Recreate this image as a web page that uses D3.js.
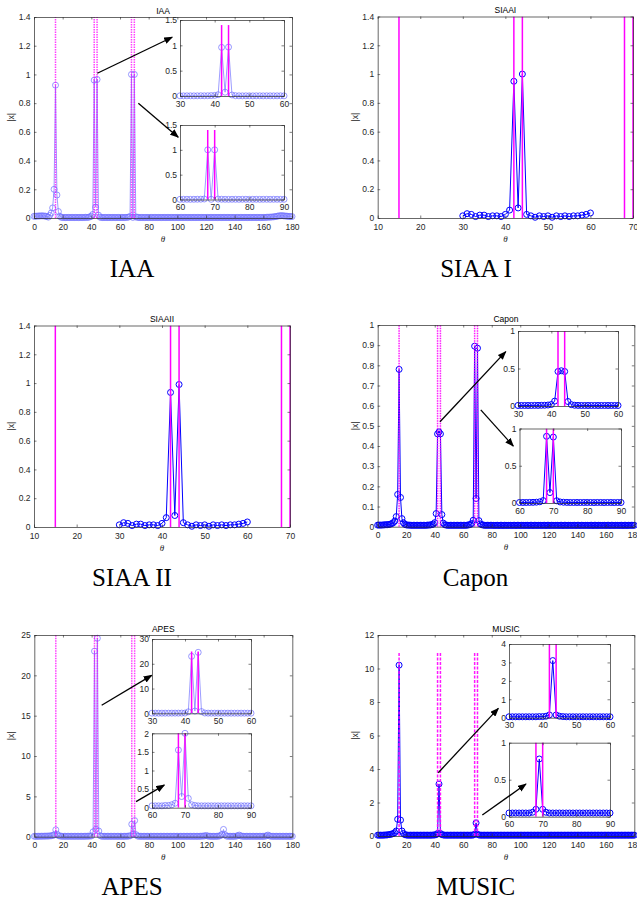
<!DOCTYPE html>
<html>
<head>
<meta charset="utf-8">
<script src="https://cdn.jsdelivr.net/npm/d3@7"></script>
<style>
body { margin: 0; background: #fff; }
</style>
</head>
<body>
<div id="chart"></div>
<script>
// true directions (magenta stems)
const trueAngles = [15, 42, 44, 68, 70];
// search grids
const fullGrid = d3.range(0, 181);
const siaaGrid = d3.range(30, 61);

// estimated |x| on the full 0..180 grid
const iaaVals = [
	0.012,0.012,0.013,0.014,0.014,0.015,0.015,0.014,0.013,0.010,
	0.006,0.018,0.035,0.070,0.200,0.925,0.160,0.045,0.012,0.005,
	0.004,0.004,0.003,0.004,0.004,0.003,0.004,0.004,0.003,0.004,
	0.004,0.003,0.004,0.004,0.003,0.004,0.005,0.004,0.005,0.008,
	0.012,0.025,0.960,0.075,0.965,0.020,0.006,0.004,0.003,0.004,
	0.004,0.003,0.004,0.004,0.003,0.004,0.004,0.003,0.004,0.004,
	0.003,0.004,0.004,0.003,0.004,0.005,0.006,0.010,1.000,0.004,
	1.000,0.008,0.005,0.004,0.003,0.004,0.004,0.003,0.004,0.004,
	0.003,0.004,0.004,0.003,0.004,0.004,0.003,0.004,0.004,0.003,
	0.004,0.004,0.003,0.004,0.004,0.003,0.004,0.004,0.003,0.004,
	0.004,0.003,0.004,0.004,0.003,0.004,0.004,0.003,0.004,0.004,
	0.003,0.004,0.004,0.003,0.004,0.004,0.003,0.004,0.004,0.003,
	0.004,0.004,0.003,0.004,0.004,0.003,0.004,0.004,0.003,0.004,
	0.004,0.003,0.004,0.004,0.003,0.004,0.004,0.003,0.004,0.004,
	0.003,0.004,0.004,0.003,0.004,0.004,0.003,0.004,0.004,0.003,
	0.004,0.004,0.003,0.004,0.004,0.003,0.004,0.004,0.003,0.004,
	0.004,0.004,0.005,0.005,0.006,0.006,0.007,0.008,0.009,0.011,
	0.013,0.015,0.016,0.016,0.015,0.014,0.013,0.012,0.011,0.010,
	0.010
];
const caponVals = [
	0.008,0.008,0.008,0.008,0.009,0.009,0.010,0.010,0.011,0.013,
	0.016,0.020,0.028,0.050,0.160,0.780,0.145,0.040,0.020,0.012,
	0.009,0.008,0.008,0.007,0.007,0.007,0.007,0.007,0.007,0.007,
	0.007,0.007,0.007,0.007,0.007,0.008,0.008,0.009,0.010,0.013,
	0.020,0.065,0.460,0.470,0.460,0.060,0.018,0.010,0.008,0.007,
	0.007,0.007,0.007,0.007,0.007,0.007,0.007,0.007,0.007,0.007,
	0.007,0.007,0.007,0.008,0.009,0.011,0.016,0.032,0.895,0.140,
	0.885,0.030,0.014,0.010,0.008,0.007,0.007,0.007,0.007,0.007,
	0.007,0.007,0.006,0.007,0.007,0.006,0.007,0.007,0.006,0.007,
	0.007,0.006,0.007,0.007,0.006,0.007,0.007,0.006,0.007,0.007,
	0.006,0.007,0.007,0.006,0.007,0.007,0.006,0.007,0.007,0.006,
	0.007,0.007,0.006,0.007,0.007,0.006,0.007,0.007,0.006,0.007,
	0.007,0.006,0.007,0.007,0.006,0.007,0.007,0.006,0.007,0.007,
	0.006,0.007,0.007,0.006,0.007,0.007,0.006,0.007,0.007,0.006,
	0.007,0.007,0.006,0.007,0.007,0.006,0.007,0.007,0.006,0.007,
	0.007,0.006,0.007,0.007,0.006,0.007,0.007,0.006,0.007,0.007,
	0.006,0.007,0.007,0.006,0.007,0.007,0.006,0.007,0.007,0.006,
	0.007,0.007,0.006,0.007,0.007,0.006,0.007,0.007,0.007,0.007,
	0.007
];
const apesVals = [
	0.05,0.05,0.05,0.05,0.06,0.06,0.06,0.07,0.07,0.08,
	0.08,0.10,0.12,0.15,0.25,0.85,0.30,0.12,0.08,0.06,
	0.05,0.05,0.05,0.05,0.05,0.05,0.05,0.05,0.05,0.05,
	0.05,0.05,0.05,0.05,0.05,0.05,0.06,0.06,0.07,0.08,
	0.10,0.60,23.00,0.90,24.60,0.70,0.12,0.06,0.05,0.05,
	0.05,0.05,0.05,0.05,0.05,0.05,0.05,0.05,0.05,0.05,
	0.05,0.05,0.05,0.05,0.06,0.06,0.08,0.12,1.55,0.30,
	2.00,0.25,0.08,0.06,0.05,0.05,0.05,0.05,0.05,0.05,
	0.05,0.05,0.05,0.05,0.05,0.05,0.05,0.05,0.05,0.05,
	0.05,0.05,0.05,0.05,0.05,0.05,0.05,0.05,0.05,0.05,
	0.05,0.05,0.05,0.05,0.05,0.05,0.05,0.05,0.05,0.05,
	0.05,0.05,0.05,0.05,0.05,0.05,0.06,0.07,0.08,0.10,
	0.15,0.08,0.06,0.05,0.05,0.05,0.05,0.05,0.06,0.08,
	0.15,0.30,0.90,0.25,0.08,0.06,0.05,0.05,0.05,0.05,
	0.05,0.08,0.12,0.20,0.10,0.06,0.05,0.05,0.05,0.05,
	0.05,0.05,0.05,0.05,0.05,0.05,0.05,0.05,0.05,0.05,
	0.05,0.06,0.12,0.20,0.10,0.06,0.05,0.05,0.05,0.05,
	0.05,0.05,0.05,0.05,0.05,0.05,0.05,0.05,0.05,0.05,
	0.05
];
const musicVals = [
	0.05,0.05,0.05,0.05,0.05,0.06,0.06,0.07,0.08,0.10,
	0.12,0.15,0.20,0.30,1.00,10.20,0.95,0.30,0.15,0.08,
	0.06,0.05,0.05,0.05,0.05,0.05,0.05,0.05,0.05,0.05,
	0.05,0.05,0.05,0.05,0.05,0.05,0.05,0.05,0.05,0.06,
	0.06,0.08,0.15,3.10,0.15,0.08,0.06,0.05,0.05,0.05,
	0.05,0.05,0.05,0.05,0.05,0.05,0.05,0.05,0.05,0.05,
	0.05,0.05,0.05,0.05,0.05,0.05,0.05,0.06,0.10,0.78,
	0.10,0.06,0.05,0.05,0.05,0.05,0.05,0.05,0.05,0.05,
	0.05,0.05,0.05,0.05,0.05,0.05,0.05,0.05,0.05,0.05,
	0.05,0.05,0.05,0.05,0.05,0.05,0.05,0.05,0.05,0.05,
	0.05,0.05,0.05,0.05,0.05,0.05,0.05,0.05,0.05,0.05,
	0.05,0.05,0.05,0.05,0.05,0.05,0.05,0.05,0.05,0.05,
	0.05,0.05,0.05,0.05,0.05,0.05,0.05,0.05,0.05,0.05,
	0.05,0.05,0.05,0.05,0.05,0.05,0.05,0.05,0.05,0.05,
	0.05,0.05,0.05,0.05,0.05,0.05,0.05,0.05,0.05,0.05,
	0.05,0.05,0.05,0.05,0.05,0.05,0.05,0.05,0.05,0.05,
	0.05,0.05,0.05,0.05,0.05,0.05,0.05,0.05,0.05,0.05,
	0.05,0.05,0.05,0.05,0.05,0.05,0.05,0.05,0.05,0.05,
	0.05
];
// SIAA estimates on the 30..60 grid
const siaa1Vals = [0.015,0.030,0.025,0.010,0.020,0.020,0.010,0.015,0.015,0.010,
	0.025,0.055,0.950,0.070,1.000,0.025,0.015,0.005,0.015,0.010,
	0.015,0.005,0.015,0.010,0.015,0.010,0.015,0.015,0.020,0.025,0.035];
const siaa2Vals = [0.015,0.030,0.025,0.010,0.020,0.020,0.010,0.015,0.015,0.010,
	0.025,0.065,0.935,0.080,0.990,0.030,0.015,0.005,0.015,0.010,
	0.015,0.005,0.015,0.010,0.015,0.010,0.015,0.015,0.020,0.025,0.035];

// tick labels
const thetaTicks = [0, 20, 40, 60, 80, 100, 120, 140, 160, 180];
const thetaTicksSiaa = [10, 20, 30, 40, 50, 60, 70];
const zoomTicksA = [30, 40, 50, 60];
const zoomTicksB = [60, 70, 80, 90];
const ticksIaa = [0, 0.2, 0.4, 0.6, 0.8, 1, 1.2, 1.4];
const ticksCapon = [0, 0.1, 0.2, 0.3, 0.4, 0.5, 0.6, 0.7, 0.8, 0.9, 1];
const ticksApes = [0, 5, 10, 15, 20, 25];
const ticksMusic = [0, 2, 4, 6, 8, 10, 12];
const insetTicksIaa = [0, 0.5, 1, 1.5];
const insetTicksCapon = [0, 0.5, 1];
const insetTicksApesA = [0, 10, 20, 30];
const insetTicksApesB = [0, 0.5, 1, 1.5, 2];
const insetTicksMusicA = [0, 1, 2, 3, 4];
const insetTicksMusicB = [0, 0.5, 1];

// height of the magenta stems per method
const stemTops = { IAA: 1.4, SIAA: 1.4, Capon: 1, APES: 25, MUSIC: 11 };

const axisColor = '#262626';
const magenta = '#ff00ff';
const fmt = (d) => String(+d.toFixed(2));

const svg = d3
	.select('#chart')
	.append('svg')
	.attr('width', 637)
	.attr('height', 899)
	.style('font-family', '"Liberation Sans", Arial, sans-serif');

const defs = svg.append('defs');
defs.append('marker')
	.attr('id', 'arrow')
	.attr('markerUnits', 'userSpaceOnUse')
	.attr('markerWidth', 9)
	.attr('markerHeight', 7)
	.attr('refX', 8)
	.attr('refY', 3.5)
	.attr('orient', 'auto')
	.append('path')
	.attr('d', 'M0,0L9,3.5L0,7Z')
	.attr('fill', '#000');

let clipCount = 0;

function makeAxes(box, xDom, yDom) {
	const [x0, y0, x1, y1] = box;
	const x = d3.scaleLinear().domain(xDom).range([x0, x1]);
	const y = d3.scaleLinear().domain(yDom).range([y1, y0]);
	const id = 'clip' + clipCount++;
	defs.append('clipPath')
		.attr('id', id)
		.append('rect')
		.attr('x', x0 - 1)
		.attr('y', y0)
		.attr('width', x1 - x0 + 2)
		.attr('height', y1 - y0);
	const g = svg.append('g');
	g.append('rect')
		.attr('x', x0)
		.attr('y', y0)
		.attr('width', x1 - x0)
		.attr('height', y1 - y0)
		.attr('fill', '#fff');
	return { x, y, g, id, box };
}

function drawFrame(ax, xTicks, yTicks, pad) {
	const [x0, y0, x1, y1] = ax.box;
	const styleAxis = (sel) => {
		sel.select('.domain').attr('stroke', axisColor).attr('stroke-width', 0.7);
		sel.selectAll('.tick line').attr('stroke', axisColor).attr('stroke-width', 0.6);
		sel.selectAll('text').attr('fill', axisColor).attr('font-size', 8.5).attr('font-family', null);
	};
	ax.g.append('g')
		.attr('transform', `translate(0,${y1})`)
		.call(d3.axisBottom(ax.x).tickValues(xTicks).tickSize(-2.5).tickSizeOuter(0).tickPadding(pad.x).tickFormat(fmt))
		.call(styleAxis);
	ax.g.append('g')
		.attr('transform', `translate(0,${y0})`)
		.call(d3.axisTop(ax.x).tickValues(xTicks).tickSize(-2.5).tickSizeOuter(0).tickFormat(''))
		.call(styleAxis);
	ax.g.append('g')
		.attr('transform', `translate(${x0},0)`)
		.call(d3.axisLeft(ax.y).tickValues(yTicks).tickSize(-2.5).tickSizeOuter(0).tickPadding(pad.y).tickFormat(fmt))
		.call(styleAxis);
	ax.g.append('g')
		.attr('transform', `translate(${x1},0)`)
		.call(d3.axisRight(ax.y).tickValues(yTicks).tickSize(-2.5).tickSizeOuter(0).tickFormat(''))
		.call(styleAxis);
	ax.g.selectAll('.domain').attr('fill', 'none');
}

function drawSeries(ax, grid, vals, look) {
	const [lo, hi] = ax.x.domain();
	const pts = grid
		.map((t, i) => ({ t, v: vals[i] }))
		.filter((p) => p.t >= lo && p.t <= hi);
	ax.g.append('path')
		.datum(pts)
		.attr('fill', 'none')
		.attr('stroke', look.line)
		.attr('stroke-width', look.lw)
		.attr('clip-path', `url(#${ax.id})`)
		.attr('d', d3.line().x((d) => ax.x(d.t)).y((d) => ax.y(d.v)));
	ax.g.selectAll(null)
		.data(pts)
		.enter()
		.append('circle')
		.attr('cx', (d) => ax.x(d.t))
		.attr('cy', (d) => ax.y(d.v))
		.attr('r', 3)
		.attr('fill', 'none')
		.attr('stroke', look.dot)
		.attr('stroke-width', look.dw);
}

function drawStems(ax, top, dash, opacity) {
	const [lo, hi] = ax.x.domain();
	ax.g.selectAll(null)
		.data(trueAngles.filter((a) => a >= lo && a <= hi))
		.enter()
		.append('line')
		.attr('x1', (d) => ax.x(d))
		.attr('x2', (d) => ax.x(d))
		.attr('y1', ax.y(0))
		.attr('y2', ax.y(top))
		.attr('stroke', magenta)
		.attr('stroke-width', 1.5)
		.attr('stroke-dasharray', dash)
		.attr('opacity', opacity)
		.attr('clip-path', `url(#${ax.id})`);
}

const lightLook = { line: '#8484ff', lw: 0.8, dot: '#6e6eff', dw: 0.7 };
const darkLook = { line: '#0000ff', lw: 1, dot: '#0000ff', dw: 1 };

const panels = [
	{
		title: 'IAA', caption: 'IAA', capPos: [132, 277],
		box: [34, 17, 292, 218], xDom: [0, 180], xTicks: thetaTicks,
		yDom: [0, 1.4], yTicks: ticksIaa, grid: fullGrid, vals: iaaVals,
		look: lightLook, stemTop: stemTops.IAA, dash: '1.5,1', stemOp: 0.75,
		insets: [
			{ box: [180, 20, 284, 96], xDom: [30, 60], xTicks: zoomTicksA, yDom: [0, 1.5], yTicks: insetTicksIaa },
			{ box: [180, 125, 284, 199.5], xDom: [60, 90], xTicks: zoomTicksB, yDom: [0, 1.5], yTicks: insetTicksIaa }
		],
		arrows: [[[44.2, 1.008], [96.4, 1.259]], [[72.8, 0.8], [100.6, 0.563]]]
	},
	{
		title: 'SIAAI', caption: 'SIAA I', capPos: [476, 277],
		box: [377.7, 16.5, 633, 218], xDom: [10, 70], xTicks: thetaTicksSiaa,
		yDom: [0, 1.4], yTicks: ticksIaa, grid: siaaGrid, vals: siaa1Vals,
		look: darkLook, stemTop: stemTops.SIAA, dash: null, stemOp: 1,
		insets: [], arrows: []
	},
	{
		title: 'SIAAII', caption: 'SIAA II', capPos: [132, 586],
		box: [34, 325.5, 290, 527], xDom: [10, 70], xTicks: thetaTicksSiaa,
		yDom: [0, 1.4], yTicks: ticksIaa, grid: siaaGrid, vals: siaa2Vals,
		look: darkLook, stemTop: stemTops.SIAA, dash: null, stemOp: 1,
		insets: [], arrows: []
	},
	{
		title: 'Capon', caption: 'Capon', capPos: [475.5, 586],
		box: [377.7, 325, 634.3, 526.7], xDom: [0, 180], xTicks: thetaTicks,
		yDom: [0, 1], yTicks: ticksCapon, grid: fullGrid, vals: caponVals,
		look: darkLook, stemTop: stemTops.Capon, dash: '1.5,1', stemOp: 0.9,
		insets: [
			{ box: [518, 331, 618, 406], xDom: [30, 60], xTicks: zoomTicksA, yDom: [0, 1], yTicks: insetTicksCapon },
			{ box: [519.5, 428.5, 621, 503], xDom: [60, 90], xTicks: zoomTicksB, yDom: [0, 1], yTicks: insetTicksCapon }
		],
		arrows: [[[43.7, 0.52], [89.8, 0.868]], [[72.3, 0.579], [95.1, 0.4]]]
	},
	{
		title: 'APES', caption: 'APES', capPos: [132, 895],
		box: [34.3, 635, 292.3, 836.7], xDom: [0, 180], xTicks: thetaTicks,
		yDom: [0, 25], yTicks: ticksApes, grid: fullGrid, vals: apesVals,
		look: lightLook, stemTop: stemTops.APES, dash: '1.5,1', stemOp: 0.75,
		insets: [
			{ box: [152, 639, 251, 713.3], xDom: [30, 60], xTicks: zoomTicksA, yDom: [0, 30], yTicks: insetTicksApesA },
			{ box: [152, 733.3, 251, 807.7], xDom: [60, 90], xTicks: zoomTicksB, yDom: [0, 2], yTicks: insetTicksApesB }
		],
		arrows: [[[47, 16.3], [81.9, 20.0]], [[71, 4.34], [90.7, 6.4]]]
	},
	{
		title: 'MUSIC', caption: 'MUSIC', capPos: [475.5, 895],
		box: [377.7, 635, 634.3, 836], xDom: [0, 180], xTicks: thetaTicks,
		yDom: [0, 12], yTicks: ticksMusic, grid: fullGrid, vals: musicVals,
		look: darkLook, stemTop: stemTops.MUSIC, dash: '3,1.5', stemOp: 0.9,
		insets: [
			{ box: [509, 644, 610, 717.7], xDom: [30, 60], xTicks: zoomTicksA, yDom: [0, 4], yTicks: insetTicksMusicA },
			{ box: [509, 742.7, 610, 816.7], xDom: [60, 90], xTicks: zoomTicksB, yDom: [0, 1], yTicks: insetTicksMusicB }
		],
		arrows: [[[42.5, 3.78], [84.6, 7.62]], [[73.4, 1.25], [104, 3.1]]]
	}
];

panels.forEach((p) => {
	const ax = makeAxes(p.box, p.xDom, p.yDom);
	drawSeries(ax, p.grid, p.vals, p.look);
	drawStems(ax, p.stemTop, p.dash, p.stemOp);
	drawFrame(ax, p.xTicks, p.yTicks, { x: 5.5, y: 3.5 });

	const [x0, y0, x1, y1] = p.box;
	// title
	svg.append('text')
		.attr('x', (x0 + x1) / 2)
		.attr('y', y0 - 3.5)
		.attr('text-anchor', 'middle')
		.attr('font-size', 8.5)
		.attr('fill', '#000')
		.text(p.title);
	// y label
	svg.append('text')
		.attr('transform', `translate(${x0 - 20},${(y0 + y1) / 2}) rotate(-90)`)
		.attr('text-anchor', 'middle')
		.attr('font-size', 8.5)
		.attr('fill', axisColor)
		.text('|x|');
	// x label
	svg.append('text')
		.attr('x', (x0 + x1) / 2)
		.attr('y', y1 + 23.5)
		.attr('text-anchor', 'middle')
		.attr('font-size', 9)
		.attr('font-style', 'italic')
		.attr('font-family', '"Liberation Serif", serif')
		.attr('fill', axisColor)
		.text('θ');

	// zoomed insets
	p.insets.forEach((ins) => {
		const iax = makeAxes(ins.box, ins.xDom, ins.yDom);
		drawSeries(iax, p.grid, p.vals, p.look);
		drawStems(iax, p.stemTop, null, 1);
		drawFrame(iax, ins.xTicks, ins.yTicks, { x: 4.5, y: 3 });
	});

	// arrows pointing to the insets
	svg.selectAll(null)
		.data(p.arrows)
		.enter()
		.append('line')
		.attr('x1', (d) => ax.x(d[0][0]))
		.attr('y1', (d) => ax.y(d[0][1]))
		.attr('x2', (d) => ax.x(d[1][0]))
		.attr('y2', (d) => ax.y(d[1][1]))
		.attr('stroke', '#000')
		.attr('stroke-width', 1.3)
		.attr('marker-end', 'url(#arrow)');

	// caption under the panel
	svg.append('text')
		.attr('x', p.capPos[0])
		.attr('y', p.capPos[1])
		.attr('text-anchor', 'middle')
		.attr('font-size', 25)
		.attr('font-family', '"Liberation Serif", "Times New Roman", serif')
		.attr('fill', '#000')
		.text(p.caption);
});
</script>
</body>
</html>
